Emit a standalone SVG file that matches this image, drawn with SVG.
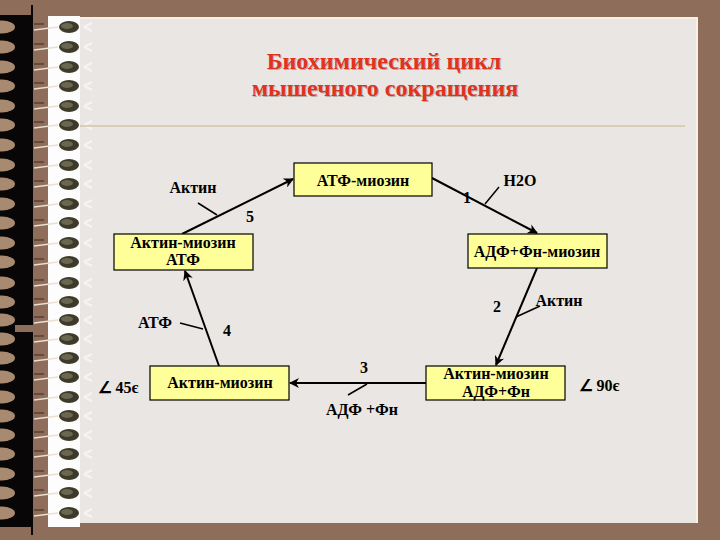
<svg xmlns="http://www.w3.org/2000/svg" xmlns:xlink="http://www.w3.org/1999/xlink" width="720" height="540" viewBox="0 0 720 540">
<style>
.box{fill:#FFFF99;stroke:#000;stroke-width:1.2}
.t{font-family:"Liberation Serif","Times New Roman",serif;font-weight:bold;font-size:16px;fill:#000;text-anchor:middle}
.title{font-family:"Liberation Serif","Times New Roman",serif;font-weight:bold;font-size:24px;fill:#E0321E;text-anchor:middle}
.shadow{fill:#B8B0A8}
.arr{stroke:#000;stroke-width:2;fill:none}
.side{stroke:#000;stroke-width:1.5;fill:none}
</style>
<defs>
<marker id="ah" viewBox="0 0 10 10" refX="9" refY="5" markerWidth="5" markerHeight="5" orient="auto" markerUnits="strokeWidth">
<path d="M0,0 L10,5 L0,10 L3,5 Z" fill="#000"/>
</marker>
<g id="ring">
<ellipse cx="2" cy="0" rx="13" ry="6.5" fill="#A88A70"/>
<line x1="34" y1="3" x2="58" y2="0" stroke="#E8E0D0" stroke-width="1.5"/>
<line x1="34" y1="-3" x2="44" y2="-3" stroke="#5A4030" stroke-width="1.5"/>
<ellipse cx="69" cy="0" rx="10" ry="6" fill="#3E3A2A"/>
<ellipse cx="67" cy="-1" rx="6" ry="3" fill="#6A6650"/>
<path d="M84,0 L92,-4 M84,0 L92,4" stroke="#F6F4F2" stroke-width="2"/>
</g>
</defs>
<rect width="720" height="540" fill="#8E6E5A"/>
<rect x="0" y="15" width="33" height="512" fill="#080606"/>
<rect x="31" y="5" width="2" height="530" fill="#080606"/>
<rect x="15" y="325" width="33" height="7" fill="#8E6E5A"/>
<rect x="48" y="16" width="32" height="511" fill="#FDFDFD"/>
<rect x="80" y="17" width="617" height="506" fill="#EAE6E3"/>
<line x1="80" y1="18" x2="697" y2="18" stroke="#F8F0E8" stroke-width="2"/>
<line x1="697" y1="17" x2="697" y2="523" stroke="#F8F0E8" stroke-width="2"/>
<g id="binding">
<use xlink:href="#ring" y="27"/><use xlink:href="#ring" y="47"/><use xlink:href="#ring" y="67"/><use xlink:href="#ring" y="86"/><use xlink:href="#ring" y="106"/><use xlink:href="#ring" y="125"/><use xlink:href="#ring" y="145"/><use xlink:href="#ring" y="165"/><use xlink:href="#ring" y="184"/><use xlink:href="#ring" y="204"/><use xlink:href="#ring" y="223"/><use xlink:href="#ring" y="243"/><use xlink:href="#ring" y="262"/><use xlink:href="#ring" y="283"/><use xlink:href="#ring" y="302"/><use xlink:href="#ring" y="320"/><use xlink:href="#ring" y="339"/><use xlink:href="#ring" y="358"/><use xlink:href="#ring" y="377"/><use xlink:href="#ring" y="397"/><use xlink:href="#ring" y="416"/><use xlink:href="#ring" y="435"/><use xlink:href="#ring" y="454"/><use xlink:href="#ring" y="474"/><use xlink:href="#ring" y="493"/><use xlink:href="#ring" y="513"/>
</g>
<line x1="80" y1="126" x2="685" y2="126" stroke="#CFC7A0" stroke-width="1.5"/>
<g id="title">
<text class="title shadow" x="385" y="70">Биохимический цикл</text>
<text class="title shadow" x="386" y="97">мышечного сокращения</text>
<text class="title" x="384" y="69">Биохимический цикл</text>
<text class="title" x="385" y="96">мышечного сокращения</text>
</g>
<g id="connectors">
<line class="arr" x1="182" y1="234" x2="293" y2="179" marker-end="url(#ah)"/>
<line class="arr" x1="432" y1="178" x2="537" y2="233" marker-end="url(#ah)"/>
<line class="arr" x1="537" y1="268" x2="496" y2="365" marker-end="url(#ah)"/>
<line class="arr" x1="426" y1="383" x2="290" y2="383" marker-end="url(#ah)"/>
<line class="arr" x1="219" y1="366" x2="185" y2="271" marker-end="url(#ah)"/>
<line class="side" x1="198" y1="203" x2="217" y2="215"/>
<line class="side" x1="485" y1="204" x2="499" y2="187"/>
<line class="side" x1="516" y1="317" x2="540" y2="306"/>
<line class="side" x1="348" y1="395" x2="367" y2="384"/>
<line class="side" x1="180" y1="323" x2="203" y2="329"/>
<text class="t" x="193" y="193">Актин</text>
<text class="t" x="250" y="222">5</text>
<text class="t" x="520" y="186">H2O</text>
<text class="t" x="467" y="203">1</text>
<text class="t" x="559" y="306">Актин</text>
<text class="t" x="497" y="312">2</text>
<text class="t" x="364" y="373">3</text>
<text class="t" x="362" y="415">АДФ +Фн</text>
<text class="t" x="155" y="328">АТФ</text>
<text class="t" x="227" y="336">4</text>
</g>
<g id="n1">
<rect class="box" x="294" y="163" width="138" height="33"/>
<text class="t" x="363" y="186">АТФ-миозин</text>
</g>
<g id="n2">
<rect class="box" x="114" y="234" width="139" height="36"/>
<text class="t" x="183" y="248">Актин-миозин</text>
<text class="t" x="183" y="265">АТФ</text>
</g>
<g id="n3">
<rect class="box" x="468" y="234" width="139" height="34"/>
<text class="t" x="537" y="257">АДФ+Фн-миозин</text>
</g>
<g id="n4">
<rect class="box" x="150" y="366" width="139" height="34"/>
<text class="t" x="220" y="388">Актин-миозин</text>
</g>
<g id="n5">
<rect class="box" x="426" y="366" width="139" height="34"/>
<text class="t" x="496" y="379">Актин-миозин</text>
<text class="t" x="496" y="397">АДФ+Фн</text>
</g>
<text class="t" x="118" y="393">∠ 45є</text>
<text class="t" x="599" y="391">∠ 90є</text>
</svg>
